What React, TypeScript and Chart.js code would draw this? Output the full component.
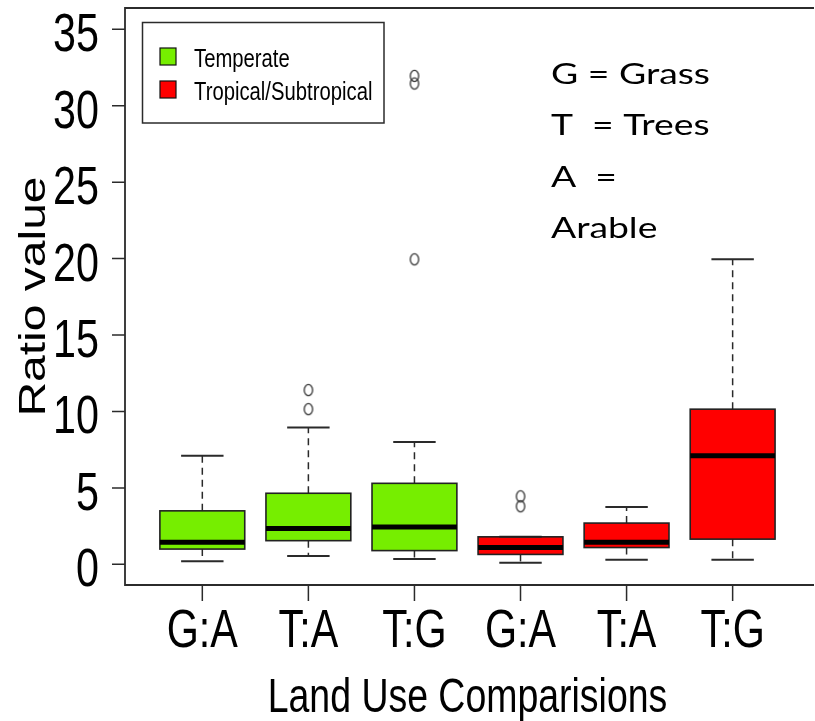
import React, { useEffect, useRef } from 'react';
import { Chart, registerables } from 'chart.js';

Chart.register(...registerables);

// ---- data ----
const categories = ['G:A', 'T:A', 'T:G', 'G:A', 'T:A', 'T:G'];
const climateGroup = [0, 0, 0, 1, 1, 1];
const groupNames = ['Temperate', 'Tropical/Subtropical'];
const groupColors = ['#76EE00', '#FF0000'];
const whiskerLow = [0.2, 0.55, 0.35, 0.1, 0.3, 0.3];
const q1 = [1.0, 1.55, 0.9, 0.65, 1.1, 1.65];
const median = [1.45, 2.35, 2.45, 1.1, 1.45, 7.1];
const q3 = [3.5, 4.65, 5.3, 1.8, 2.7, 10.15];
const whiskerHigh = [7.1, 8.95, 8.0, 1.8, 3.75, 19.95];
const outlierCategory = [1, 1, 2, 2, 2, 3, 3];
const outlierValue = [11.4, 10.15, 31.95, 31.45, 19.95, 4.45, 3.8];
const yTicks = [0, 5, 10, 15, 20, 25, 30, 35];
const xTitle = 'Land Use Comparisions';
const yTitle = 'Ratio value';
const noteLines = ['G = Grass', 'T  = Trees', 'A  =', 'Arable'];

const SANS = '"Liberation Sans", Arial, sans-serif';

function drawText(
  ctx: CanvasRenderingContext2D,
  text: string,
  x: number,
  y: number,
  font: string,
  align: CanvasTextAlign,
  sx: number,
  rotate = 0
) {
  ctx.save();
  ctx.translate(x, y);
  ctx.scale(sx, 1);
  if (rotate) ctx.rotate(rotate);
  ctx.font = font;
  ctx.textAlign = align;
  ctx.textBaseline = 'alphabetic';
  ctx.fillStyle = '#000';
  ctx.fillText(text, 0, 0);
  ctx.restore();
}

const boxExtras = {
  id: 'boxExtras',
  afterDatasetsDraw(chart: any) {
    const ctx: CanvasRenderingContext2D = chart.ctx;
    const xs = chart.scales.x;
    const ys = chart.scales.y;
    ctx.save();
    categories.forEach((_, i) => {
      const cx = xs.getPixelForValue(i);
      const capL = xs.getPixelForValue(i - 0.2);
      const capR = xs.getPixelForValue(i + 0.2);
      const boxL = xs.getPixelForValue(i - 0.4);
      const boxR = xs.getPixelForValue(i + 0.4);
      // dashed whiskers
      ctx.strokeStyle = '#2a2a2a';
      ctx.lineWidth = 1.5;
      ctx.setLineDash([7, 5]);
      ctx.beginPath();
      ctx.moveTo(cx, ys.getPixelForValue(q3[i]));
      ctx.lineTo(cx, ys.getPixelForValue(whiskerHigh[i]));
      ctx.moveTo(cx, ys.getPixelForValue(q1[i]));
      ctx.lineTo(cx, ys.getPixelForValue(whiskerLow[i]));
      ctx.stroke();
      ctx.setLineDash([]);
      // caps
      ctx.lineWidth = 2;
      ctx.beginPath();
      [whiskerHigh[i], whiskerLow[i]].forEach((v) => {
        const y = ys.getPixelForValue(v);
        ctx.moveTo(capL, y);
        ctx.lineTo(capR, y);
      });
      ctx.stroke();
      // box outline
      ctx.lineWidth = 1.6;
      ctx.strokeStyle = '#222';
      const yt = ys.getPixelForValue(q3[i]);
      const yb = ys.getPixelForValue(q1[i]);
      ctx.strokeRect(boxL, yt, boxR - boxL, yb - yt);
      // median
      ctx.strokeStyle = '#000';
      ctx.lineWidth = 5;
      ctx.beginPath();
      const ym = ys.getPixelForValue(median[i]);
      ctx.moveTo(boxL, ym);
      ctx.lineTo(boxR, ym);
      ctx.stroke();
    });
    ctx.restore();
  },
  afterDraw(chart: any) {
    const ctx: CanvasRenderingContext2D = chart.ctx;
    const xs = chart.scales.x;
    const ys = chart.scales.y;
    const a = chart.chartArea;
    ctx.save();
    // plot frame (left, top, bottom)
    ctx.strokeStyle = '#2b2b2b';
    ctx.lineWidth = 1.8;
    ctx.beginPath();
    ctx.moveTo(a.right + 5, a.top);
    ctx.lineTo(a.left, a.top);
    ctx.lineTo(a.left, a.bottom);
    ctx.lineTo(a.right + 5, a.bottom);
    ctx.stroke();
    // ticks
    ctx.lineWidth = 1.5;
    ctx.beginPath();
    yTicks.forEach((t) => {
      const y = ys.getPixelForValue(t);
      ctx.moveTo(a.left - 13, y);
      ctx.lineTo(a.left, y);
    });
    categories.forEach((_, i) => {
      const x = xs.getPixelForValue(i);
      ctx.moveTo(x, a.bottom);
      ctx.lineTo(x, a.bottom + 16);
    });
    ctx.stroke();
    ctx.restore();

    const tickFont = `54px ${SANS}`;
    yTicks.forEach((t) => {
      drawText(ctx, String(t), a.left - 26, ys.getPixelForValue(t) + 22, tickFont, 'right', 0.765);
    });
    categories.forEach((c, i) => {
      drawText(ctx, c, xs.getPixelForValue(i), a.bottom + 62, tickFont, 'center', 0.765);
    });
    drawText(ctx, xTitle, xs.getPixelForValue(2.5), a.bottom + 127, `48px ${SANS}`, 'center', 0.78);
    drawText(ctx, yTitle, 45, (a.top + a.bottom) / 2, `48px ${SANS}`, 'center', 0.77, -Math.PI / 2);

    // legend
    ctx.save();
    ctx.strokeStyle = '#2b2b2b';
    ctx.lineWidth = 1.5;
    ctx.strokeRect(142.5, 22.5, 241.5, 100.5);
    groupNames.forEach((name, g) => {
      const top = 48 + g * 33;
      ctx.fillStyle = groupColors[g];
      ctx.fillRect(160, top, 16, 17);
      ctx.lineWidth = 1.2;
      ctx.strokeStyle = '#111';
      ctx.strokeRect(160, top, 16, 17);
      drawText(ctx, name, 194, top + 19, `26.5px ${SANS}`, 'left', 0.765);
    });
    ctx.restore();

    // annotation
    ctx.save();
    const noteFont = '29px Lato, "Open Sans", sans-serif';
    ctx.font = noteFont;
    const w = ctx.measureText(noteLines[0]).width;
    const sx = 159 / w;
    ctx.restore();
    noteLines.forEach((line, k) => {
      drawText(ctx, line, 551, 84 + k * 51.3, noteFont, 'left', sx);
    });
  },
};

export default function App() {
  const ref = useRef<HTMLCanvasElement>(null);
  useEffect(() => {
    const canvas = ref.current!;
    const ell = document.createElement('canvas');
    ell.width = 12;
    ell.height = 16;
    const ec = ell.getContext('2d')!;
    ec.strokeStyle = '#333';
    ec.lineWidth = 1.3;
    ec.beginPath();
    ec.ellipse(6, 8, 4.2, 5.6, 0, 0, Math.PI * 2);
    ec.stroke();

    const chart = new Chart(canvas, {
      type: 'bar',
      data: {
        datasets: [
          {
            type: 'bar',
            label: 'boxes',
            data: categories.map((_, i) => ({ x: i, y: [q1[i], q3[i]] })) as any,
            backgroundColor: categories.map((_, i) => groupColors[climateGroup[i]]),
            borderColor: '#222',
            borderWidth: 0,
            borderSkipped: false,
            barPercentage: 0.8,
            categoryPercentage: 1,
          },
          {
            type: 'scatter',
            label: 'outliers',
            data: outlierValue.map((v, k) => ({ x: outlierCategory[k], y: v })),
            pointStyle: ell as any,
            pointRadius: 5,
            showLine: false,
          } as any,
        ],
      },
      options: {
        responsive: false,
        animation: false,
        devicePixelRatio: 1,
        layout: { padding: { left: 125, top: 8, right: 0, bottom: 136 } },
        scales: {
          x: {
            type: 'linear',
            min: -0.729,
            max: 5.72,
            offset: false,
            grid: { offset: false },
            display: false,
            afterBuildTicks: (s: any) => {
              s.ticks = categories.map((_, i) => ({ value: i }));
            },
          },
          y: { type: 'linear', min: -1.35, max: 36.39, display: false },
        },
        plugins: {
          legend: { display: false },
          tooltip: { enabled: false },
        },
      },
      plugins: [boxExtras],
    });
    return () => chart.destroy();
  }, []);
  return (
    <div style={{ position: 'absolute', left: 0, top: 0, width: 815, height: 721, background: '#fff' }}>
      <canvas ref={ref} width={815} height={721} style={{ display: 'block' }} />
    </div>
  );
}
